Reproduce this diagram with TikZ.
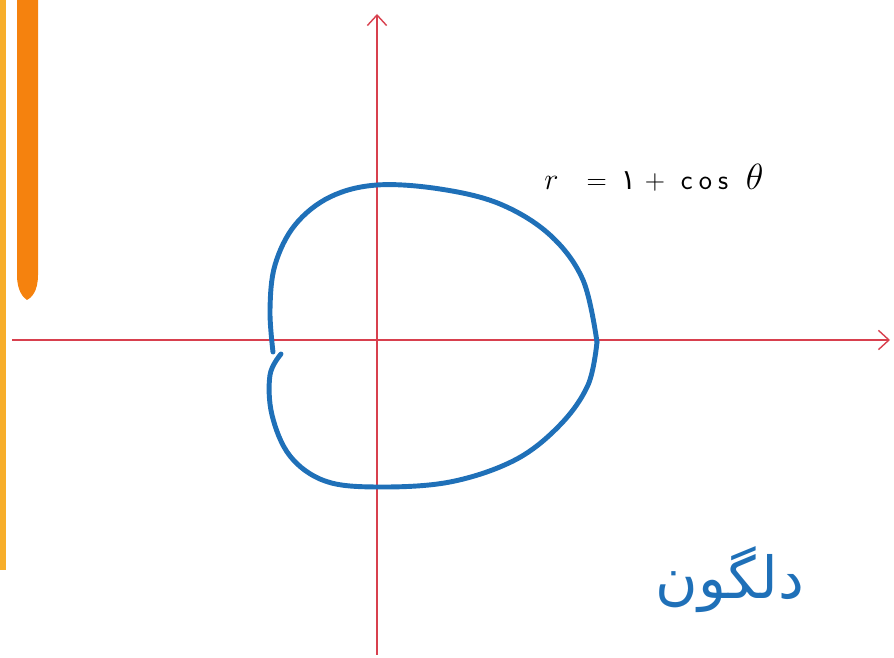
\documentclass[tikz,border=0pt]{standalone}
\usepackage{fontspec}
\newfontfamily\arabicfont[Script=Arabic]{DejaVu Sans}
\TeXXeTstate=1
\usetikzlibrary{arrows.meta}
\definecolor{axisred}{HTML}{D8404E}
\definecolor{curveblue}{HTML}{1F70B8}
\definecolor{barorange}{HTML}{F5820E}
\definecolor{baryellow}{HTML}{F7AE2A}
\tikzset{
  axis/.style={axisred, line width=0.8pt, -{Straight Barb[length=6pt,width=11pt]}},
  curve/.style={curveblue, line width=2.8pt, line cap=round}
}
\begin{document}
\begin{tikzpicture}[x=0.02cm, y=-0.02cm]
  \useasboundingbox (0,0) rectangle (894,658);

  % --- side bars ---
  \fill[baryellow] (0,0) rectangle (6,570);
  \fill[barorange] (17,0) -- (17,275) .. controls (17,292) and (24,298) .. (27,300)
    .. controls (31,298) and (38,292) .. (38,275) -- (38,0) -- cycle;

  % --- axes ---
  \coordinate (o) at (377,340);
  \coordinate (xl) at (12,340);
  \coordinate (xr) at (890,340);
  \coordinate (yb) at (377,655);
  \coordinate (yt) at (377,14);
  \draw[axis] (xl) -- (xr);
  \draw[axis] (yb) -- (yt);

  % --- curve (upper half) ---
  \draw[curve] plot[smooth, tension=0.6] coordinates {
    (273,352) (270,310) (275,265) (295,225) (330,197) (377,185)
    (440,189) (500,204) (550,235) (583,280) (597,342)};
  % --- curve (lower half) ---
  \draw[curve] plot[smooth, tension=0.6] coordinates {
    (597,342) (588,385) (560,425) (515,460) (450,482) (377,487)
    (325,481) (290,456) (272,415) (270,375) (281,354)};

  % --- labels ---
  \node[anchor=west, inner sep=0pt, font=\fontsize{16}{18}\selectfont] (eq) at (544,178)
    {$r$\hspace{16pt}=\hspace{8pt}{\arabicfont ۱}\hspace{5pt}+\hspace{9pt}\textsf{c\hspace{3.5pt}o\hspace{3.5pt}s}\hspace{10pt}{\fontsize{20}{22}\selectfont$\theta$}};
  \node[curveblue, font=\fontsize{33}{36}\selectfont\arabicfont] (name) at (730,580)
    {\beginR دلگون\endR};

\end{tikzpicture}
\end{document}
